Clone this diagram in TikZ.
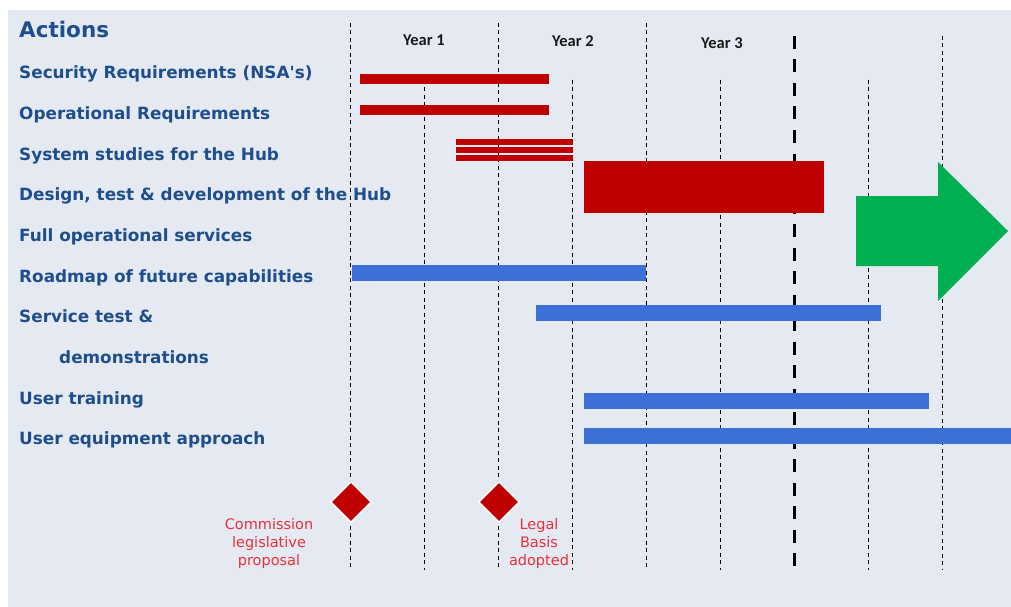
\documentclass[tikz,border=0pt]{standalone}
\usepackage{fontspec}
\usepackage{tikz}
\usetikzlibrary{shapes.geometric}
\newfontfamily\verdfont[Ligatures=TeXOff]{DejaVu Sans}
\newfontfamily\califont{Carlito}
\definecolor{bg}{HTML}{E5EAF2}
\definecolor{navy}{HTML}{1F4E8C}
\definecolor{barred}{HTML}{C00000}
\definecolor{barblue}{HTML}{3C70D4}
\definecolor{arrowgreen}{HTML}{00B050}
\definecolor{mlred}{HTML}{E8303C}
\tikzset{
  act/.style={anchor=base west, inner sep=0pt, text=navy, font=\verdfont\bfseries\fontsize{16.85}{20}\selectfont},
  yearlab/.style={anchor=base, inner sep=0pt, text=black!90, font=\califont\bfseries\fontsize{16.5}{20}\selectfont},
  gridline/.style={draw=black, line width=0.9pt, dash pattern=on 4pt off 3.5pt},
  nowline/.style={draw=black, line width=3pt, dash pattern=on 13pt off 10.5pt},
  redbar/.style={fill=barred},
  bluebar/.style={fill=barblue},
  mile/.style={diamond, fill=barred, draw=white, line width=1.5pt, minimum width=41pt, minimum height=41pt, inner sep=0pt},
  mlab/.style={text=mlred, align=center, inner sep=0pt, font=\verdfont\fontsize{14.5}{18}\selectfont},
}

\begin{document}
\begin{tikzpicture}[x=1pt,y=-1pt]
  \useasboundingbox (0,0) rectangle (1011,607);
  \fill[white] (0,0) rectangle (1011,607);
  \fill[bg] (8,10) rectangle (1011,607);
  % time grid
  \foreach \x/\t in {350/23,424/80,498/23,572/80,646/23,720/80,868/80,942/36}
    \draw[gridline] (\x,\t) -- (\x,570);
  \draw[nowline] (794,36) -- (794,570);
  % header
  \node[act, font=\verdfont\bfseries\fontsize{21.5}{24}\selectfont] (title) at (19,37.7) {Actions};
  \node[yearlab] (y1) at (424,45.7) {Year 1};
  \node[yearlab] (y2) at (573,46.7) {Year 2};
  \node[yearlab] (y3) at (722,48.3) {Year 3};
  % actions
  \foreach \i/\x/\txt in {0/19/{Security Requirements (NSA's)},
                          1/19/{Operational Requirements},
                          2/19/{System studies for the Hub},
                          3/19/{Design, test \& development of the Hub},
                          4/19/{Full operational services},
                          5/19/{Roadmap of future capabilities},
                          6/19/{Service test \&},
                          7/59/{demonstrations},
                          8/19/{User training},
                          9/19/{User equipment approach}}
    \node[act] (row\i) at (\x,{79+40.65*\i}) {\txt};
  % red bars
  \fill[redbar] (360,74) rectangle (549,84);
  \fill[redbar] (360,105) rectangle (549,115);
  \foreach \y in {139,147.3,155.3}
    \fill[redbar] (456,\y) rectangle (573,\y+5.5);
  \fill[redbar] (584,161) rectangle (824,213);
  % full operation arrow
  \fill[arrowgreen] (856,196) -- (938,196) -- (938,162) -- (1008,231)
    -- (938,301) -- (938,266) -- (856,266) -- cycle;
  % blue bars
  \fill[bluebar] (352,265) rectangle (646,281);
  \fill[bluebar] (536,305) rectangle (881,321);
  \fill[bluebar] (584,393) rectangle (929,409);
  \fill[bluebar] (584,428) rectangle (1011,444);
  % milestones
  \node[mile] (m1) at (351,502) {};
  \node[mile] (m2) at (499,502) {};
  \node[mlab] (m1lab) at (269,543) {Commission\\legislative\\proposal};
  \node[mlab] (m2lab) at (539,543) {Legal\\Basis\\adopted};
\end{tikzpicture}
\end{document}
